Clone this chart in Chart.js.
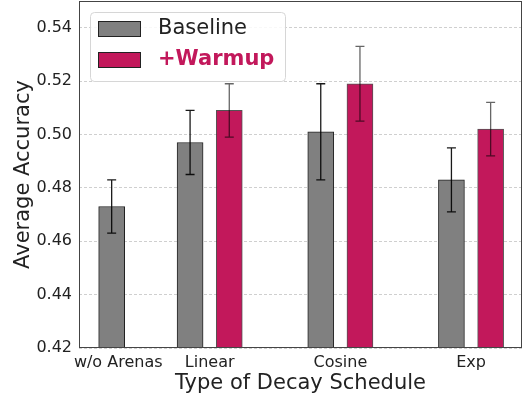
<!DOCTYPE html>
<html>
<head>
<meta charset="utf-8">
<script src="https://cdn.jsdelivr.net/npm/chart.js@4"></script>
<style>
  html, body { margin: 0; padding: 0; background: #fff; }
  #wrap { width: 523px; height: 397px; }
</style>
</head>
<body>
<div id="wrap"><canvas id="myChart" width="523" height="397"></canvas></div>
<script>
// categories and where they sit on the x axis
var categories = ['w/o Arenas', 'Linear', 'Cosine', 'Exp'];
var catPos = [0.3, 1, 2, 3];

// series values (null = no bar)
var baseline = [0.473, 0.497, 0.501, 0.483];
var warmup = [null, 0.509, 0.519, 0.502];

// error bar ranges
var baselineLow = [0.463, 0.485, 0.483, 0.471];
var baselineHigh = [0.483, 0.509, 0.519, 0.495];
var warmupLow = [null, 0.499, 0.505, 0.492];
var warmupHigh = [null, 0.519, 0.533, 0.512];

var yTicks = [0.42, 0.44, 0.46, 0.48, 0.50, 0.52, 0.54];

var grey = '#808080';
var crimson = '#C2185B';
var font = 'DejaVu Sans';

// bar offsets from the category position
function barX(i, ds) {
  if (i === 0) return catPos[0] - 0.05;
  return catPos[i] + (ds === 0 ? -0.15 : 0.15);
}

function points(values, ds, low, high) {
  var out = [];
  values.forEach(function (v, i) {
    if (v === null) return;
    out.push({ x: barX(i, ds), y: v, lo: low[i], hi: high[i] });
  });
  return out;
}

var errorBars = {
  id: 'errorBars',
  afterDatasetsDraw: function (chart) {
    var ctx = chart.ctx;
    var y = chart.scales.y;
    chart.data.datasets.forEach(function (ds, di) {
      var meta = chart.getDatasetMeta(di);
      ctx.save();
      ctx.strokeStyle = di === 0 ? 'rgba(0,0,0,0.9)' : 'rgba(0,0,0,0.6)';
      ctx.lineWidth = 1.3;
      meta.data.forEach(function (bar, i) {
        var p = ds.data[i];
        var yl = y.getPixelForValue(p.lo);
        var yh = y.getPixelForValue(p.hi);
        ctx.beginPath();
        ctx.moveTo(bar.x, yl); ctx.lineTo(bar.x, yh);
        ctx.moveTo(bar.x - 4.5, yl); ctx.lineTo(bar.x + 4.5, yl);
        ctx.moveTo(bar.x - 4.5, yh); ctx.lineTo(bar.x + 4.5, yh);
        ctx.stroke();
      });
      ctx.restore();
    });
  },
  afterDraw: function (chart) {
    var ctx = chart.ctx;
    var a = chart.chartArea;
    ctx.save();
    // frame
    ctx.strokeStyle = '#444';
    ctx.lineWidth = 1;
    ctx.strokeRect(a.left + 0.5, a.top + 0.5, a.right - a.left - 1, a.bottom - a.top - 1);

    // legend box
    var lx = a.left + 11, ly = a.top + 11, lw = 195, lh = 69, r = 4;
    ctx.fillStyle = 'rgba(255,255,255,0.85)';
    ctx.strokeStyle = '#d6d6d6';
    ctx.beginPath();
    ctx.roundRect(lx + 0.5, ly + 0.5, lw, lh, r);
    ctx.fill();
    ctx.stroke();

    var items = [
      { label: 'Baseline', color: grey, text: '#222', weight: 'normal' },
      { label: '+Warmup', color: crimson, text: crimson, weight: 'bold' }
    ];
    items.forEach(function (it, k) {
      var by = ly + 9 + k * 31;
      ctx.fillStyle = it.color;
      ctx.fillRect(lx + 8.5, by + 0.5, 42, 15);
      ctx.strokeStyle = '#222';
      ctx.lineWidth = 1;
      ctx.strokeRect(lx + 8.5, by + 0.5, 42, 15);
      ctx.fillStyle = it.text;
      ctx.font = it.weight + ' 21px "' + font + '"';
      ctx.textBaseline = 'middle';
      ctx.textAlign = 'left';
      ctx.fillText(it.label, lx + 68, by + 8);
    });
    ctx.restore();
  }
};

var ctx = document.getElementById('myChart').getContext('2d');
var myChart = new Chart(ctx, {
  type: 'bar',
  data: {
    datasets: [{
      label: 'Baseline',
      data: points(baseline, 0, baselineLow, baselineHigh),
      backgroundColor: grey,
      borderColor: '#222',
      borderWidth: 1,
      barThickness: 26,
      grouped: false
    }, {
      label: '+Warmup',
      data: points(warmup, 1, warmupLow, warmupHigh),
      backgroundColor: crimson,
      borderColor: 'rgba(40,40,40,0.8)',
      borderWidth: 1,
      barThickness: 26,
      grouped: false
    }]
  },
  options: {
    responsive: false,
    animation: false,
    layout: { padding: { top: 1, right: 1, left: 0, bottom: 0 } },
    plugins: {
      legend: { display: false },
      tooltip: { enabled: false }
    },
    scales: {
      x: {
        type: 'linear',
        min: 0,
        max: 3.39,
        offset: false,
        grid: { display: false, drawTicks: false },
        border: { display: false },
        afterBuildTicks: function (scale) {
          scale.ticks = catPos.map(function (v) { return { value: v }; });
        },
        afterFit: function (scale) {
          scale.height = 49;
          scale.paddingLeft = 0;
          scale.paddingRight = 0;
        },
        ticks: {
          autoSkip: false,
          maxRotation: 0,
          padding: 5,
          color: '#222',
          font: { family: font, size: 16 },
          callback: function (v, i) { return categories[i]; }
        },
        title: {
          display: true,
          text: 'Type of Decay Schedule',
          color: '#222',
          font: { family: font, size: 21 },
          padding: { top: 0, bottom: 1 }
        }
      },
      y: {
        min: 0.42,
        max: 0.55,
        grid: { color: '#cfcfcf', lineWidth: 1, drawTicks: false },
        border: { display: false, dash: [3, 2] },
        afterBuildTicks: function (scale) {
          scale.ticks = yTicks.map(function (v) { return { value: v }; });
        },
        afterFit: function (scale) {
          scale.width = 79;
          scale.paddingTop = 0;
          scale.paddingBottom = 0;
        },
        ticks: {
          padding: 7,
          color: '#222',
          font: { family: font, size: 16 },
          callback: function (v) { return v.toFixed(2); }
        },
        title: {
          display: true,
          text: 'Average Accuracy',
          color: '#222',
          font: { family: font, size: 21 },
          padding: { top: 11, bottom: 0 }
        }
      }
    }
  },
  plugins: [errorBars]
});
</script>
</body>
</html>
